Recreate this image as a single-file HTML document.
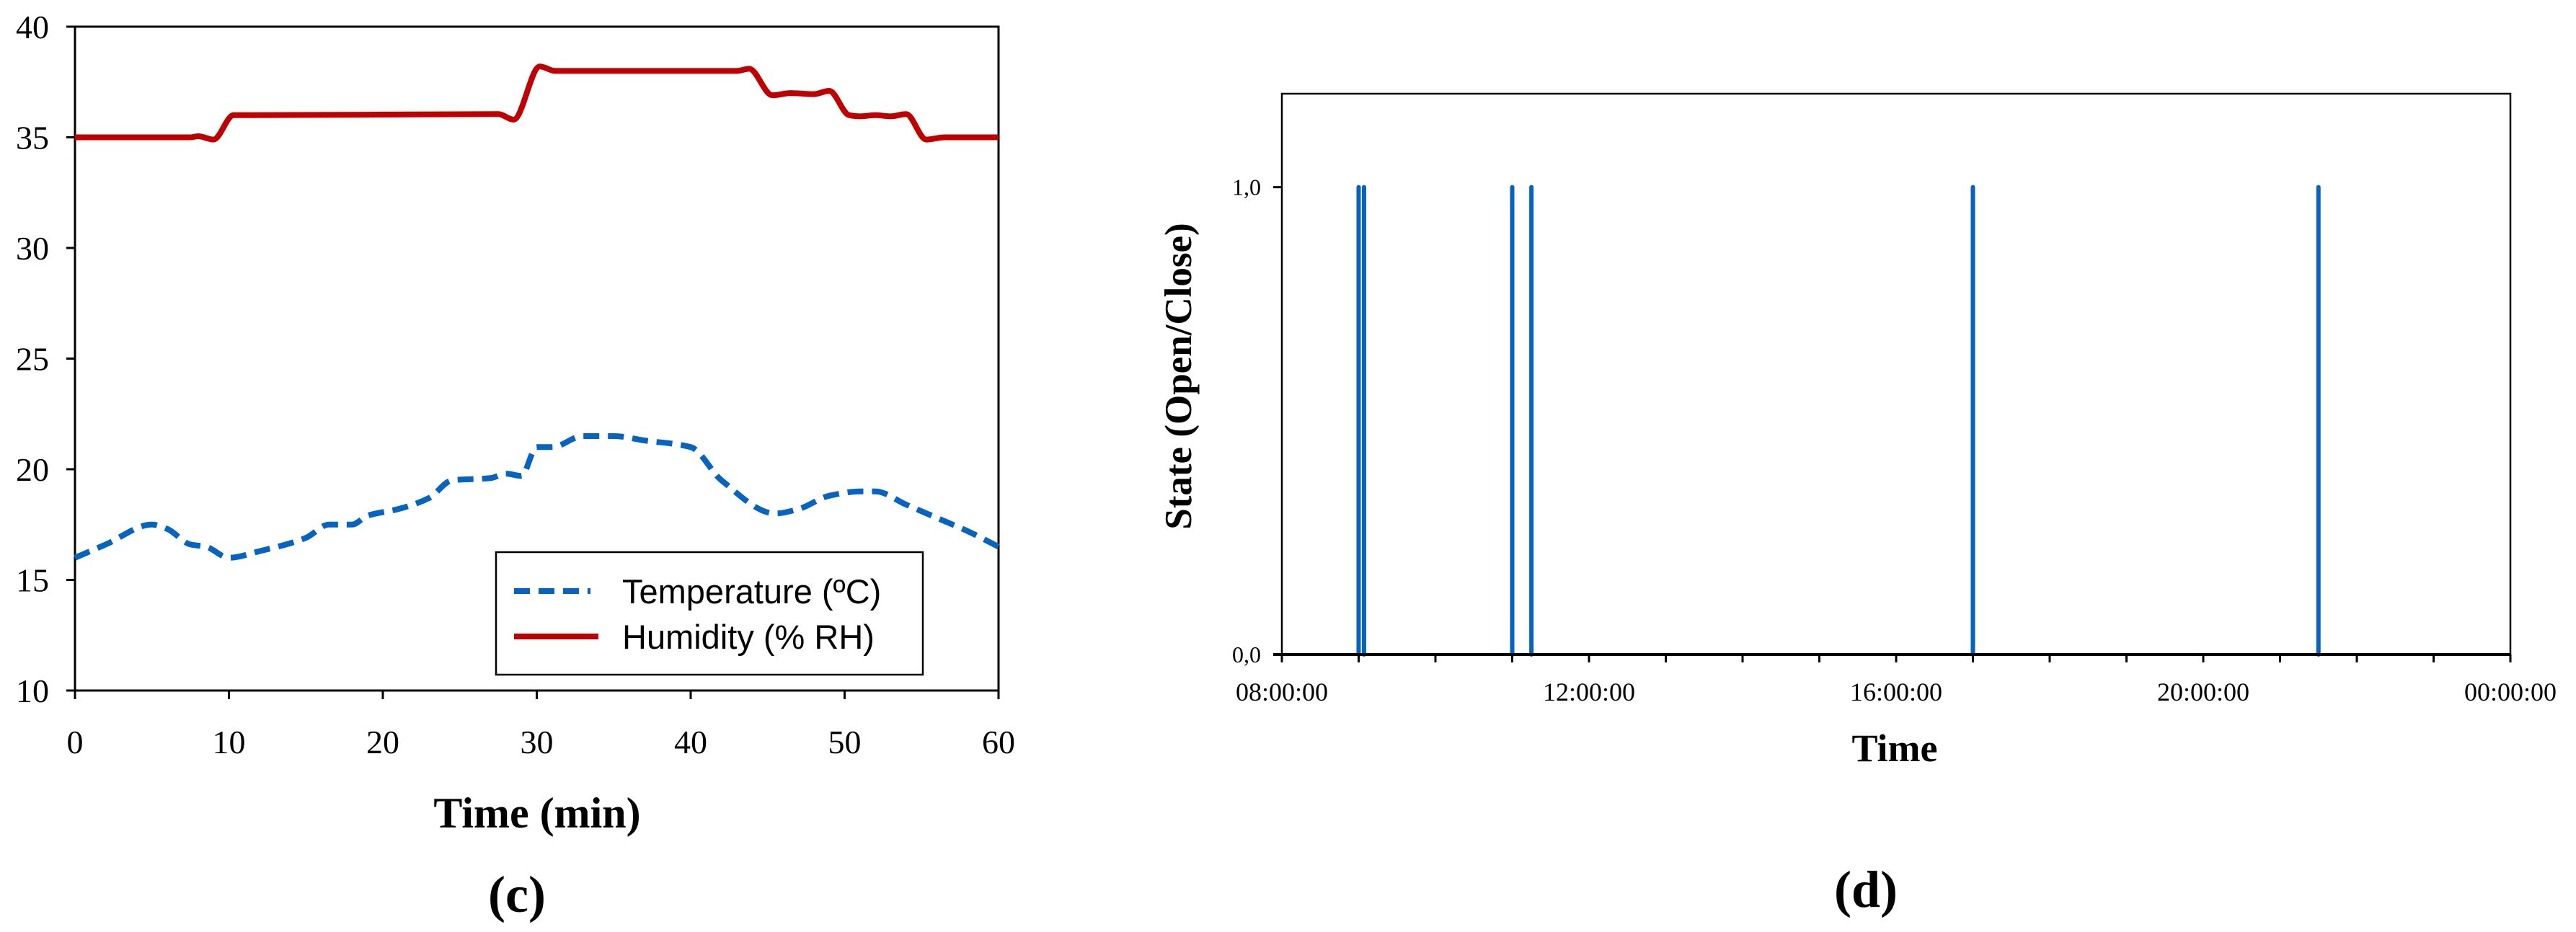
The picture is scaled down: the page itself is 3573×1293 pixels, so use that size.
<!DOCTYPE html>
<html><head><meta charset="utf-8"><style>
html,body{margin:0;padding:0;background:#fff;}
svg{display:block;}
</style></head><body>
<svg id="fig" width="3573" height="1293" viewBox="0 0 3573 1293" xmlns="http://www.w3.org/2000/svg">
<g id="c"></g>
<g id="d"></g>
</svg>
<script>
// ---- Chart (c) data ----
const tempX = [0,2,5,6,7.5,8.5,10,12,15,16.5,18,19,21,23,24.5,27,28,29,30,31,33,35,37,40,42,45.5,47,49,51,52,54,56,58,60];
const tempY = [16,16.6,17.5,17.3,16.6,16.5,16,16.3,16.9,17.5,17.5,17.9,18.2,18.7,19.5,19.6,19.8,19.7,21,21,21.5,21.5,21.3,21,19.5,18,18.2,18.8,19,19,18.4,17.8,17.2,16.5];
const humX = [0,7.5,8,9,10.3,11.5,27.5,28.5,30.2,31.2,43,43.8,45.3,46.5,48,49,50.3,51,52,53,54,55.3,56.5,60];
const humY = [35,35,35.05,34.9,36,36,36.05,35.8,38.2,38,38,38.1,36.9,37,36.95,37.1,36,35.95,36,35.95,36.05,34.9,35,35];
const cXTicks = [0,10,20,30,40,50,60];
const cYTicks = [10,15,20,25,30,35,40];
// ---- Chart (d) data ----
const eventHours = [9.0, 9.07, 11.0, 11.25, 17.0, 21.5];
const eventState = [1,1,1,1,1,1];
const dXTickHours = [8,12,16,20,24];
const dXTickLabels = ["08:00:00","12:00:00","16:00:00","20:00:00","00:00:00"];
const dYTicks = [0,1];
const dYTickLabels = ["0,0","1,0"];

const NS="http://www.w3.org/2000/svg";
function mk(parent,tag,attrs,text){const e=document.createElementNS(NS,tag);for(const k in attrs)e.setAttribute(k,attrs[k]);if(text!==undefined)e.textContent=text;parent.appendChild(e);return e;}
// monotone cubic interpolation (no overshoot)
function smooth(pts){
 const n=pts.length, dx=[], m=[], t=[];
 for(let i=0;i<n-1;i++){dx.push(pts[i+1][0]-pts[i][0]); m.push((pts[i+1][1]-pts[i][1])/dx[i]);}
 t[0]=m[0]; t[n-1]=m[n-2];
 for(let i=1;i<n-1;i++){ if(m[i-1]*m[i]<=0) t[i]=0; else { const w1=2*dx[i]+dx[i-1], w2=dx[i]+2*dx[i-1]; t[i]=(w1+w2)/(w1/m[i-1]+w2/m[i]); } }
 let d=`M${pts[0][0]},${pts[0][1]}`;
 for(let i=0;i<n-1;i++){const h=dx[i]/3; d+=` C${pts[i][0]+h},${pts[i][1]+t[i]*h} ${pts[i+1][0]-h},${pts[i+1][1]-t[i+1]*h} ${pts[i+1][0]},${pts[i+1][1]}`;}
 return d;
}
const serif='"Liberation Serif", serif', sans='"Liberation Sans", sans-serif';

// ---- Chart c ----
(function(){
const g=document.getElementById('c');
const L=104,R=1385,T=37,B=958;
const sx=v=>L+(v-0)/60*(R-L), sy=v=>B-(v-10)/30*(B-T);
let e=mk(g,'rect',{x:L,y:T,width:R-L,height:B-T,fill:'none',stroke:'#000','stroke-width':3});

cXTicks.forEach(v=>{
 let t=mk(g,'line',{x1:sx(v),x2:sx(v),y1:B,y2:B+12,stroke:'#000','stroke-width':3});
 
 let l=mk(g,'text',{x:sx(v),y:1045,'text-anchor':'middle','font-family':serif,'font-size':46},String(v));
 
});
cYTicks.forEach(v=>{
 let t=mk(g,'line',{x1:L-12,x2:L,y1:sy(v),y2:sy(v),stroke:'#000','stroke-width':3});
 
 let l=mk(g,'text',{x:68,y:sy(v)+16,'text-anchor':'end','font-family':serif,'font-size':46},String(v));
 
});
let hp=mk(g,'path',{d:smooth(humX.map((x,i)=>[sx(x),sy(humY[i])])),fill:'none',stroke:'#c00000','stroke-width':8,'stroke-linejoin':'round'});

let tp=mk(g,'path',{d:smooth(tempX.map((x,i)=>[sx(x),sy(tempY[i])])),fill:'none',stroke:'#0563c1','stroke-width':8,'stroke-dasharray':'22 12'});

let lg=mk(g,'g',{});

mk(lg,'rect',{x:688,y:766,width:592,height:170,fill:'#fff',stroke:'#000','stroke-width':2.5});
let l1=mk(lg,'line',{x1:713,x2:819,y1:820,y2:820,stroke:'#0563c1','stroke-width':8,'stroke-dasharray':'22 12'});

mk(lg,'text',{x:863,y:837,'font-family':sans,'font-size':47},'Temperature (ºC)');
let l2=mk(lg,'line',{x1:713,x2:830,y1:883,y2:883,stroke:'#c00000','stroke-width':8});

mk(lg,'text',{x:863,y:900,'font-family':sans,'font-size':47},'Humidity (% RH)');
let xt=mk(g,'text',{x:745,y:1148,'text-anchor':'middle','font-family':serif,'font-size':60,'font-weight':'bold'},'Time (min)');

let cp=mk(g,'text',{x:717,y:1265,'text-anchor':'middle','font-family':serif,'font-size':72,'font-weight':'bold'},'(c)');

})();

// ---- Chart d ----
(function(){
const g=document.getElementById('d');
const L=1778,R=3482,T=130,B=908;
const sx=h=>L+(h-8)/16*(R-L), sy=v=>B-v/1.2*(B-T);
let e=mk(g,'rect',{x:L,y:T,width:R-L,height:B-T,fill:'none',stroke:'#000','stroke-width':2.5});

eventHours.forEach((h,i)=>{
 let s=mk(g,'line',{x1:sx(h),x2:sx(h),y1:B,y2:sy(eventState[i]),stroke:'#0563c1','stroke-width':6,'stroke-linecap':'round'});
 
});
let ax=mk(g,'line',{x1:L-12,x2:R,y1:B,y2:B,stroke:'#000','stroke-width':4});

for(let h=8;h<=24;h++){
 let t=mk(g,'line',{x1:sx(h),x2:sx(h),y1:B,y2:B+11,stroke:'#000','stroke-width':3});
 
}
dXTickHours.forEach((h,i)=>{
 let l=mk(g,'text',{x:sx(h),y:972,'text-anchor':'middle','font-family':serif,'font-size':36},dXTickLabels[i]);
 
});
dYTicks.forEach((v,i)=>{
 let t=mk(g,'line',{x1:L-12,x2:L,y1:sy(v),y2:sy(v),stroke:'#000','stroke-width':3});
 
 let l=mk(g,'text',{x:1749,y:sy(v)+11,'text-anchor':'end','font-family':serif,'font-size':32},dYTickLabels[i]);
 
});
let yt=mk(g,'text',{x:0,y:0,'text-anchor':'middle','font-family':serif,'font-size':53,'font-weight':'bold',transform:'translate(1652,522) rotate(-90)'},'State (Open/Close)');

let xt=mk(g,'text',{x:2628,y:1056,'text-anchor':'middle','font-family':serif,'font-size':54,'font-weight':'bold'},'Time');

let dp=mk(g,'text',{x:2588,y:1258,'text-anchor':'middle','font-family':serif,'font-size':72,'font-weight':'bold'},'(d)');

})();
</script>
</body></html>
